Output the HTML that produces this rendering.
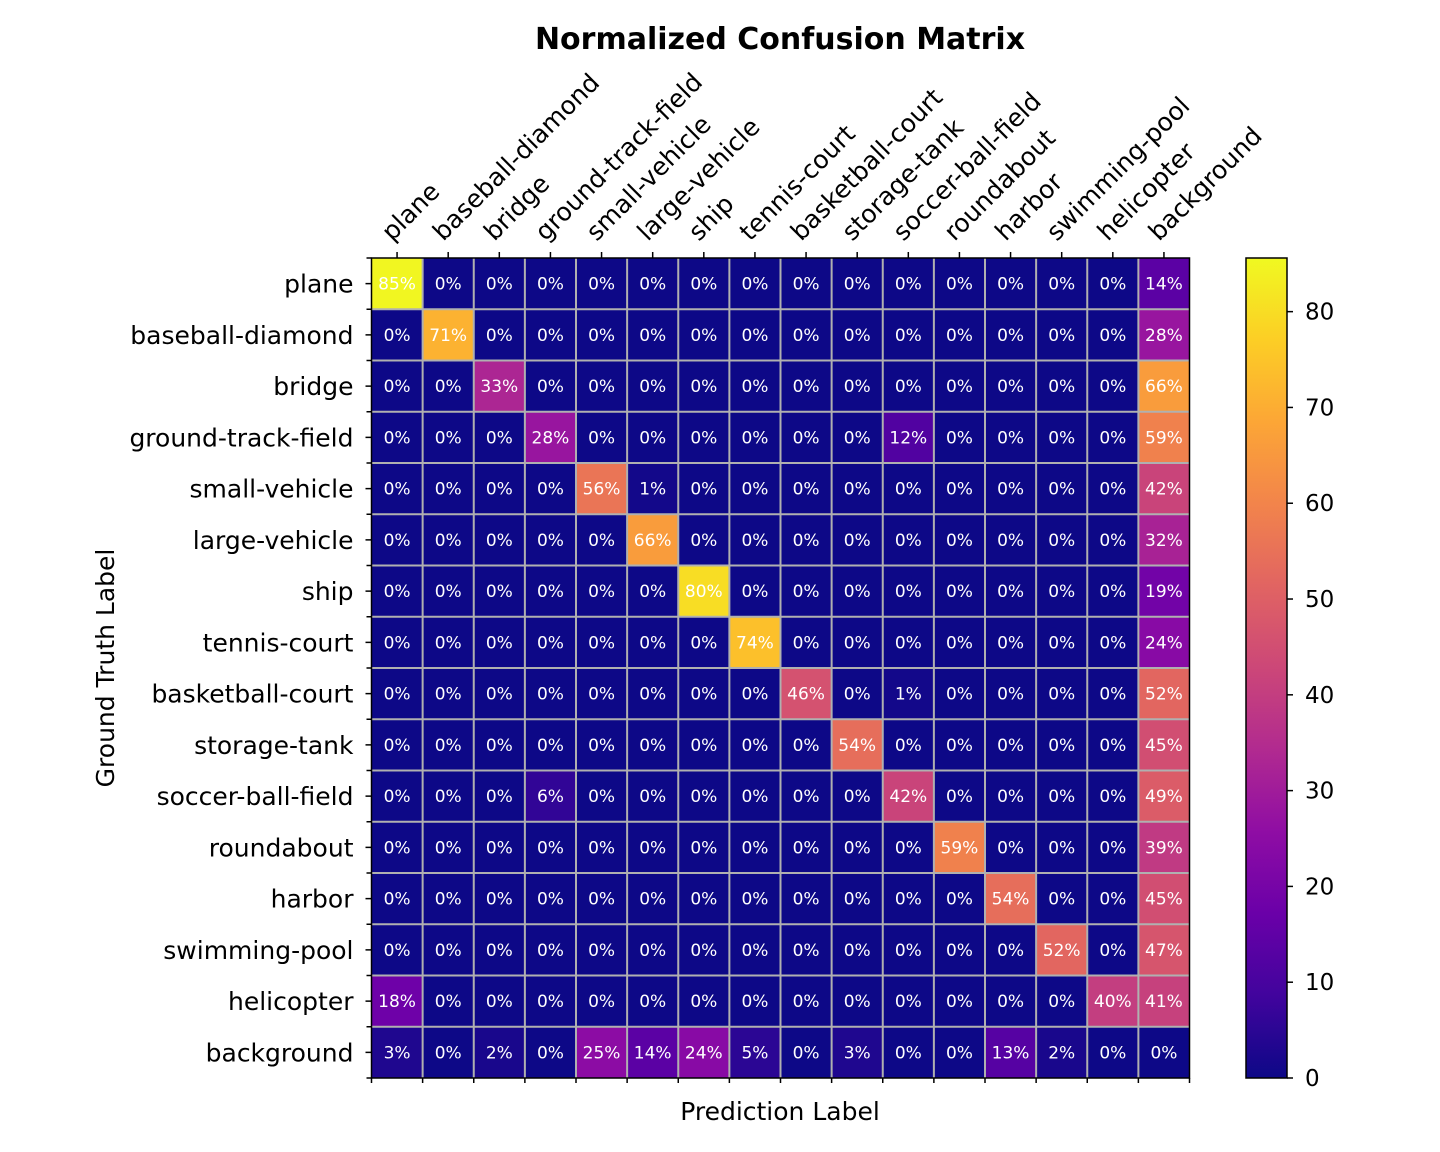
<!DOCTYPE html>
<html><head><meta charset="utf-8"><style>
html,body{margin:0;padding:0;background:#fff;}
svg{display:block;font-family:"DejaVu Sans","Liberation Sans",sans-serif;}
</style></head><body>
<svg id="chart" width="1440" height="1152" viewBox="0 0 1440 1152">
<defs>
<linearGradient id="cbgrad" x1="0" y1="1" x2="0" y2="0">
<stop offset="0" stop-color="#0d0887"/><stop offset="0.1" stop-color="#41049d"/><stop offset="0.2" stop-color="#6a00a8"/><stop offset="0.3" stop-color="#8f0da4"/><stop offset="0.4" stop-color="#b12a90"/><stop offset="0.5" stop-color="#cc4778"/><stop offset="0.6" stop-color="#e16462"/><stop offset="0.7" stop-color="#f2844b"/><stop offset="0.8" stop-color="#fca636"/><stop offset="0.9" stop-color="#fcce25"/><stop offset="1" stop-color="#f0f921"/>
</linearGradient>
</defs>
<text x="780" y="49" text-anchor="middle" font-size="30" font-weight="bold">Normalized Confusion Matrix</text>
<text x="780" y="1120" text-anchor="middle" font-size="25">Prediction Label</text>
<text transform="translate(114,668) rotate(-90)" text-anchor="middle" font-size="25">Ground Truth Label</text>
<g id="cells"></g><g id="grid"></g><g id="labels"></g><g id="cbar"></g>
</svg>
<script>
const classes = ["plane","baseball-diamond","bridge","ground-track-field","small-vehicle","large-vehicle","ship","tennis-court","basketball-court","storage-tank","soccer-ball-field","roundabout","harbor","swimming-pool","helicopter","background"];
const matrix = [
[85,0,0,0,0,0,0,0,0,0,0,0,0,0,0,14],
[0,71,0,0,0,0,0,0,0,0,0,0,0,0,0,28],
[0,0,33,0,0,0,0,0,0,0,0,0,0,0,0,66],
[0,0,0,28,0,0,0,0,0,0,12,0,0,0,0,59],
[0,0,0,0,56,1,0,0,0,0,0,0,0,0,0,42],
[0,0,0,0,0,66,0,0,0,0,0,0,0,0,0,32],
[0,0,0,0,0,0,80,0,0,0,0,0,0,0,0,19],
[0,0,0,0,0,0,0,74,0,0,0,0,0,0,0,24],
[0,0,0,0,0,0,0,0,46,0,1,0,0,0,0,52],
[0,0,0,0,0,0,0,0,0,54,0,0,0,0,0,45],
[0,0,0,6,0,0,0,0,0,0,42,0,0,0,0,49],
[0,0,0,0,0,0,0,0,0,0,0,59,0,0,0,39],
[0,0,0,0,0,0,0,0,0,0,0,0,54,0,0,45],
[0,0,0,0,0,0,0,0,0,0,0,0,0,52,0,47],
[18,0,0,0,0,0,0,0,0,0,0,0,0,0,40,41],
[3,0,2,0,25,14,24,5,0,3,0,0,13,2,0,0]];
const cbTicks = [0,10,20,30,40,50,60,70,80];
const vmax = 85.6;

const NS="http://www.w3.org/2000/svg";
const L=371.5,R=1189.5,T=258,B=1078,n=classes.length;
const cw=(R-L)/n,ch=(B-T)/n;
const xs=i=>L+i*cw, ys=j=>T+j*ch;
const CBL=1246,CBR=1287;
const cbY=v=>B-(v/vmax)*(B-T);
const stops=["#0d0887","#41049d","#6a00a8","#8f0da4","#b12a90","#cc4778","#e16462","#f2844b","#fca636","#fcce25","#f0f921"];
function hex(h){return [1,3,5].map(k=>parseInt(h.substr(k,2),16));}
function cmap(v){let t=Math.max(0,Math.min(1,v/vmax))*10;let i=Math.min(9,Math.floor(t));let f=t-i;const a=hex(stops[i]),b=hex(stops[i+1]);return "rgb("+a.map((c,k)=>Math.round(c+(b[k]-c)*f)).join(",")+")";}
function mk(tag,attrs,parent,txt){const e=document.createElementNS(NS,tag);for(const k in attrs)e.setAttribute(k,attrs[k]);if(txt!==undefined)e.textContent=txt;parent.appendChild(e);return e;}
const gC=document.getElementById("cells"),gG=document.getElementById("grid"),gL=document.getElementById("labels"),gB=document.getElementById("cbar");
for(let r=0;r<n;r++)for(let c=0;c<n;c++){
  const v=matrix[r][c];
  const rect=mk("rect",{x:xs(c),y:ys(r),width:cw+0.5,height:ch+0.5,fill:cmap(v)},gC);
  
  
  const t=mk("text",{x:xs(c)+cw/2,y:ys(r)+ch/2+6,"text-anchor":"middle","font-size":"17",fill:"#fff"},gC,v+"%");
  
  
}
for(let i=1;i<n;i++){
  mk("line",{x1:xs(i),x2:xs(i),y1:T,y2:B,stroke:"#b0b0b0","stroke-width":2},gG);
  mk("line",{x1:L,x2:R,y1:ys(i),y2:ys(i),stroke:"#b0b0b0","stroke-width":2},gG);
}
const frame=mk("rect",{x:L,y:T,width:R-L,height:B-T,fill:"none",stroke:"#000","stroke-width":1.5},gG);


for(let i=0;i<=n;i++){
  mk("line",{x1:xs(i),x2:xs(i),y1:B,y2:B+5,stroke:"#000","stroke-width":1.5},gG);
  mk("line",{x1:L-5,x2:L,y1:ys(i),y2:ys(i),stroke:"#000","stroke-width":1.5},gG);
}
classes.forEach((c,i)=>{
  const cx=xs(i)+cw/2, cy=ys(i)+ch/2;
  mk("line",{x1:cx,x2:cx,y1:T-6,y2:T,stroke:"#000","stroke-width":1.5},gG);
  mk("line",{x1:L-6,x2:L,y1:cy,y2:cy,stroke:"#000","stroke-width":1.5},gG);
  const tx=mk("text",{transform:"translate("+(cx-5)+","+(T-16)+") rotate(-45)","font-size":"25"},gL,c);
  
  
  const ty=mk("text",{x:L-18,y:cy+9,"text-anchor":"end","font-size":"25"},gL,c);
  
  
});
const cb=mk("rect",{x:CBL,y:T,width:CBR-CBL,height:B-T,fill:"url(#cbgrad)",stroke:"#000","stroke-width":1.5},gB);


cbTicks.forEach(v=>{
  const y=cbY(v);
  mk("line",{x1:CBR,x2:CBR+6,y1:y,y2:y,stroke:"#000","stroke-width":1.5},gB);
  const t=mk("text",{x:CBR+18,y:y+8,"font-size":"23"},gB,String(v));
  
  
});
</script>
</body></html>
